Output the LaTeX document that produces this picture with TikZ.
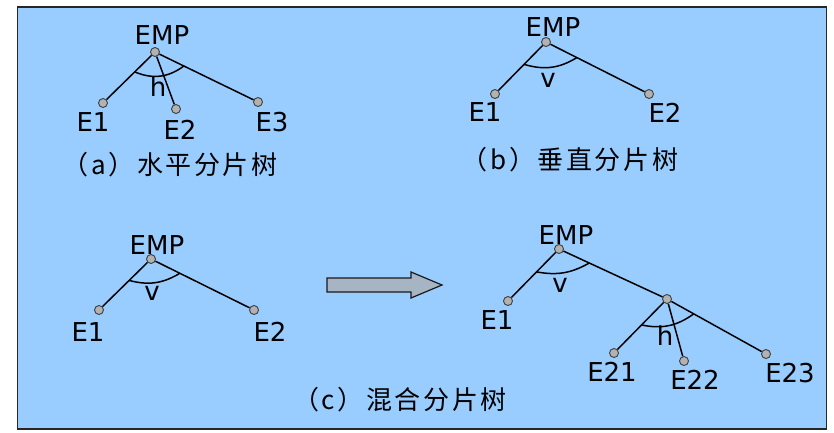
\documentclass[tikz,border=0pt]{standalone}
\usepackage{fontspec}
\setmainfont{DejaVu Sans}
\newfontfamily\cjk[LetterSpace=10]{Noto Sans CJK SC}
\usetikzlibrary{calc}

\definecolor{bgblue}{RGB}{153,204,255}
\definecolor{dotgray}{RGB}{178,178,178}
\definecolor{arrowgray}{RGB}{166,180,196}

\begin{document}
\begin{tikzpicture}[x=10pt,y=10pt]

        \useasboundingbox (0,0) rectangle (83.4,43.2);
        \filldraw[fill=bgblue, draw=black!85, line width=1.5pt] (1.75,0.3) rectangle (82.65,42.5);

        % tree dots
        \begin{scope}[every node/.style={circle, draw=black!75, fill=dotgray, line width=0.9pt, inner sep=0pt, minimum size=9pt}]
          \node (a0)  at (15.5,38.0) {};
          \node (a1)  at (10.3,32.9) {};
          \node (a2)  at (17.6,32.3) {};
          \node (a3)  at (25.8,33.0) {};

          \node (b0)  at (54.6,39.0) {};
          \node (b1)  at (49.5,33.8) {};
          \node (b2)  at (64.9,33.8) {};

          \node (c0)  at (15.1,17.3) {};
          \node (c1)  at (9.9,12.2)  {};
          \node (c2)  at (25.4,12.2) {};

          \node (d0)  at (55.9,18.3) {};
          \node (d1)  at (50.8,13.1) {};
          \node (d2)  at (66.7,13.3) {};
          \node (d21) at (61.4,7.9)  {};
          \node (d22) at (68.4,7.1)  {};
          \node (d23) at (76.6,7.8)  {};
        \end{scope}

        \begin{scope}[every edge/.style={draw, line width=1.5pt}]
          \path (a0)  edge (a1);
          \path (a0)  edge (a2);
          \path (a0)  edge (a3);
          \path (b0)  edge (b1);
          \path (b0)  edge (b2);
          \path (c0)  edge (c1);
          \path (c0)  edge (c2);
          \path (d0)  edge (d1);
          \path (d0)  edge (d2);
          \path (d2)  edge (d21);
          \path (d2)  edge (d22);
          \path (d2)  edge (d23);
        \end{scope}

        % fragmentation arcs
        \coordinate (ah1) at ($(a0)!0.39!(a1)$);
        \coordinate (ah2) at ($(a0)!0.28!(a3)$);
        \coordinate (bv1) at ($(b0)!0.43!(b1)$);
        \coordinate (bv2) at ($(b0)!0.30!(b2)$);
        \coordinate (cv1) at ($(c0)!0.42!(c1)$);
        \coordinate (cv2) at ($(c0)!0.28!(c2)$);
        \coordinate (dv1) at ($(d0)!0.44!(d1)$);
        \coordinate (dv2) at ($(d0)!0.28!(d2)$);
        \coordinate (dh1) at ($(d2)!0.48!(d21)$);
        \coordinate (dh2) at ($(d2)!0.27!(d23)$);

        \begin{scope}[line width=1.5pt]
          \draw (ah1) to[bend right=30] (ah2);
          \draw (bv1) to[bend right=24] (bv2);
          \draw (cv1) to[bend right=23] (cv2);
          \draw (dv1) to[bend right=20] (dv2);
          \draw (dh1) to[bend right=24] (dh2);
        \end{scope}

        % labels
        \begin{scope}[every node/.style={inner sep=0pt, font=\fontsize{26}{26}\selectfont}]
          \node (ta0)  at (16.2,39.7) {EMP};
          \node (ta1)  at (9.3,31.0)  {E1};
          \node (ta2)  at (18.0,30.2) {E2};
          \node (ta3)  at (27.2,31.0) {E3};
          \node (tah)  at (15.8,34.5) {h};

          \node (tb0)  at (55.3,40.5) {EMP};
          \node (tb1)  at (48.5,32.0) {E1};
          \node (tb2)  at (66.5,31.9) {E2};
          \node (tbv)  at (54.8,35.2) {v};

          \node (tc0)  at (15.7,18.7) {EMP};
          \node (tc1)  at (8.8,10.0)  {E1};
          \node (tc2)  at (27.0,10.0) {E2};
          \node (tcv)  at (15.2,13.9) {v};

          \node (td0)  at (56.6,19.7) {EMP};
          \node (td1)  at (49.7,11.2) {E1};
          \node (td21) at (61.2,6.0)  {E21};
          \node (td22) at (69.5,5.2)  {E22};
          \node (td23) at (79.0,5.9)  {E23};
          \node (tdv)  at (56.0,14.7) {v};
          \node (tdh)  at (66.5,9.6)  {h};
        \end{scope}

        \begin{scope}[every node/.style={inner sep=0pt, font=\cjk\fontsize{26}{26}\selectfont}]
          \node (capa) at (17.0,26.7) {（a）水平分片树};
          \node (capb) at (57.0,27.2) {（b）垂直分片树};
          \node (capc) at (40.0,3.2)  {（c）混合分片树};
        \end{scope}

        % transition arrow
        \filldraw[fill=arrowgray, draw=black!90, line width=1.2pt]
          (32.7,15.4) -- (41.1,15.4) -- (41.1,16.0) -- (44.2,14.7)
          -- (41.1,13.4) -- (41.1,14.0) -- (32.7,14.0) -- cycle;

      \end{tikzpicture}
\end{document}
